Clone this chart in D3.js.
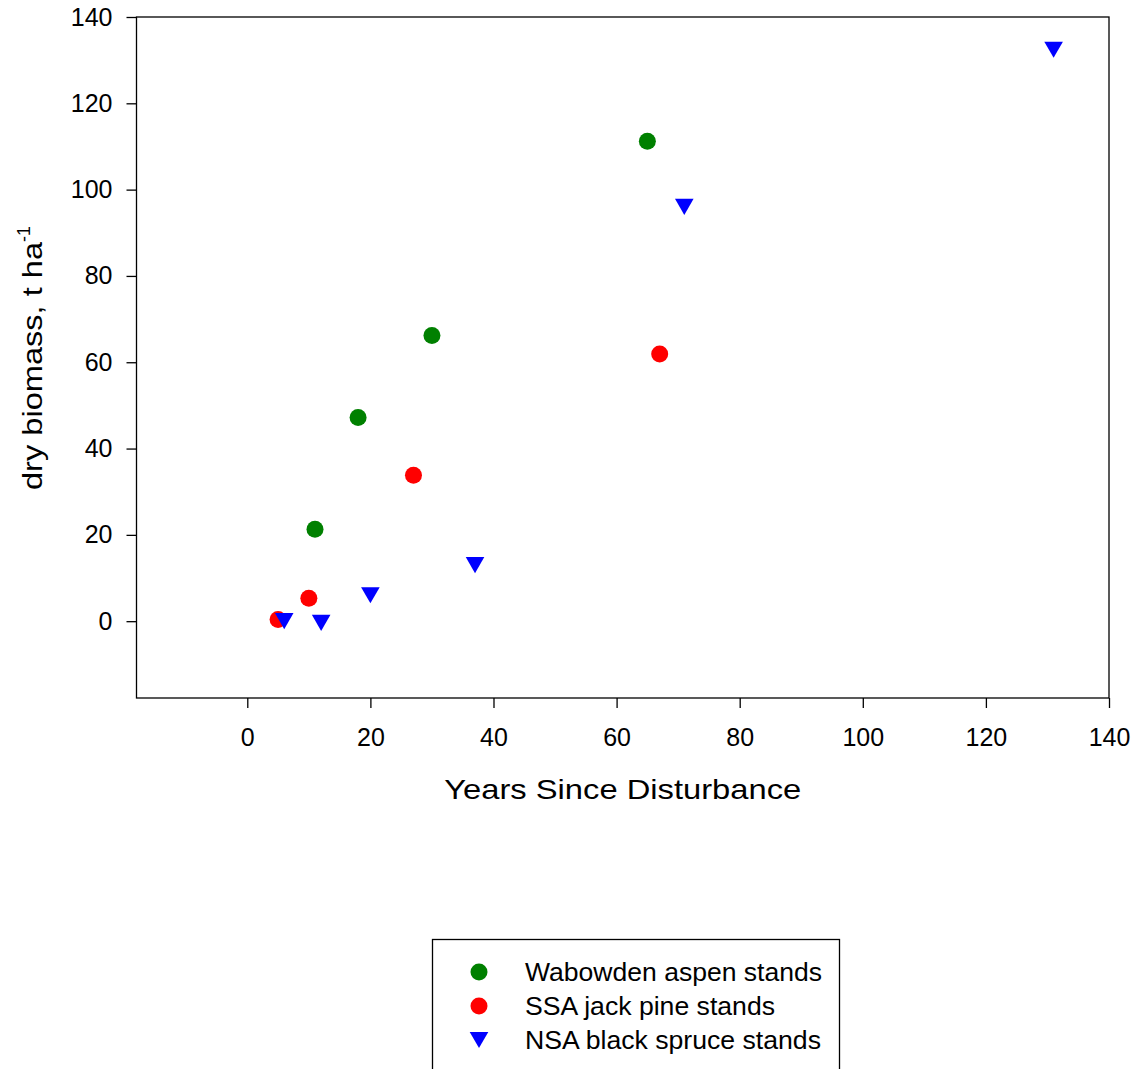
<!DOCTYPE html>
<html lang="en">
<head>
<meta charset="utf-8" />
<title>Dry biomass vs years since disturbance</title>
<script src="https://cdn.jsdelivr.net/npm/d3@7"></script>
<style>
  body { margin: 0; background: #fff; }
  text { font-family: "Liberation Sans", Arial, sans-serif; fill: #000; }
</style>
</head>
<body>
<script>
// data
var seriesNames = ["Wabowden aspen stands", "SSA jack pine stands", "NSA black spruce stands"];
var aspenYears = [11, 18, 30, 65];
var aspenBiomass = [21.3, 47.2, 66.2, 111.2];
var pineYears = [5, 10, 27, 67];
var pineBiomass = [0.4, 5.3, 33.8, 61.9];
var spruceYears = [6, 12, 20, 37, 71, 131];
var spruceBiomass = [0, -0.4, 6.0, 13.0, 96, 132.4];
var xTicks = [0, 20, 40, 60, 80, 100, 120, 140];
var yTicks = [0, 20, 40, 60, 80, 100, 120, 140];

var w = 1138, h = 1069;
var padL = 136.5, padR = 1109, padT = 17, padB = 698;

var svg = d3.select("body").append("svg")
  .attr("width", w)
  .attr("height", h);

var xScale = d3.scaleLinear().domain([-18, 140]).range([padL, padR]);
var yScale = d3.scaleLinear().domain([-17.8, 140]).range([padB, padT]);

// frame
svg.append("rect")
  .attr("x", padL).attr("y", padT)
  .attr("width", padR - padL).attr("height", padB - padT)
  .attr("fill", "none").attr("stroke", "#000").attr("stroke-width", 1.3);

var xAxis = svg.append("g")
  .attr("transform", "translate(0," + padB + ")")
  .call(d3.axisBottom(xScale).tickValues(xTicks).tickSize(10).tickPadding(20));
var yAxis = svg.append("g")
  .attr("transform", "translate(" + padL + ",0)")
  .call(d3.axisLeft(yScale).tickValues(yTicks).tickSize(10).tickPadding(14));

[xAxis, yAxis].forEach(function(a) {
  a.select(".domain").remove();
  a.selectAll("line").attr("stroke", "#000").attr("stroke-width", 1.3);
  a.selectAll("text")
    .attr("font-family", "Liberation Sans, Arial, sans-serif")
    .attr("font-size", "25px")
    .attr("fill", "#000");
});

// axis titles (reference glyphs are a bit wider, so stretch to its width)
svg.append("text")
  .attr("x", (padL + padR) / 2)
  .attr("y", 799)
  .attr("text-anchor", "middle")
  .attr("font-size", "28px")
  .attr("textLength", 357)
  .attr("lengthAdjust", "spacingAndGlyphs")
  .text("Years Since Disturbance");

var yt = svg.append("text")
  .attr("transform", "translate(42,490) rotate(-90)")
  .attr("font-size", "28px");
yt.append("tspan")
  .attr("textLength", 248)
  .attr("lengthAdjust", "spacingAndGlyphs")
  .text("dry biomass, t ha");
yt.append("tspan").attr("dy", "-12").attr("font-size", "18px").text("-1");

// points
function pts(xs, ys) {
  return xs.map(function(x, i) { return { x: x, y: ys[i] }; });
}

var triSize = 150;
var tri = d3.symbol().type(d3.symbolTriangle).size(triSize);
// shift so the triangle's box (not its centroid) sits on the point
var triSide = Math.sqrt(triSize * 4 / Math.sqrt(3));
var triShift = (triSide * Math.sqrt(3) / 2) / 6;

svg.append("g").selectAll("circle")
  .data(pts(aspenYears, aspenBiomass))
  .enter().append("circle")
  .attr("cx", function(d) { return xScale(d.x); })
  .attr("cy", function(d) { return yScale(d.y); })
  .attr("r", 8.5)
  .attr("fill", "#008000");

svg.append("g").selectAll("circle")
  .data(pts(pineYears, pineBiomass))
  .enter().append("circle")
  .attr("cx", function(d) { return xScale(d.x); })
  .attr("cy", function(d) { return yScale(d.y); })
  .attr("r", 8.5)
  .attr("fill", "#ff0000");

svg.append("g").selectAll("path")
  .data(pts(spruceYears, spruceBiomass))
  .enter().append("path")
  .attr("d", tri)
  .attr("transform", function(d) {
    return "translate(" + xScale(d.x) + "," + (yScale(d.y) - triShift) + ") rotate(180)";
  })
  .attr("fill", "#0000ff");

// legend
var lg = svg.append("g");
lg.append("rect")
  .attr("x", 432.5).attr("y", 939.5)
  .attr("width", 407).attr("height", 140)
  .attr("fill", "#fff").attr("stroke", "#000").attr("stroke-width", 1.3);

var colors = ["#008000", "#ff0000", "#0000ff"];
var legendWidths = [297, 250, 296];
seriesNames.forEach(function(name, i) {
  var cy = 972 + i * 34;
  if (i < 2) {
    lg.append("circle").attr("cx", 479).attr("cy", cy).attr("r", 8.5).attr("fill", colors[i]);
  } else {
    lg.append("path").attr("d", tri)
      .attr("transform", "translate(479," + (cy - triShift) + ") rotate(180)")
      .attr("fill", colors[i]);
  }
  lg.append("text")
    .attr("x", 525).attr("y", cy + 9)
    .attr("font-size", "25px")
    .attr("textLength", legendWidths[i])
    .attr("lengthAdjust", "spacingAndGlyphs")
    .text(name);
});
</script>
</body>
</html>
